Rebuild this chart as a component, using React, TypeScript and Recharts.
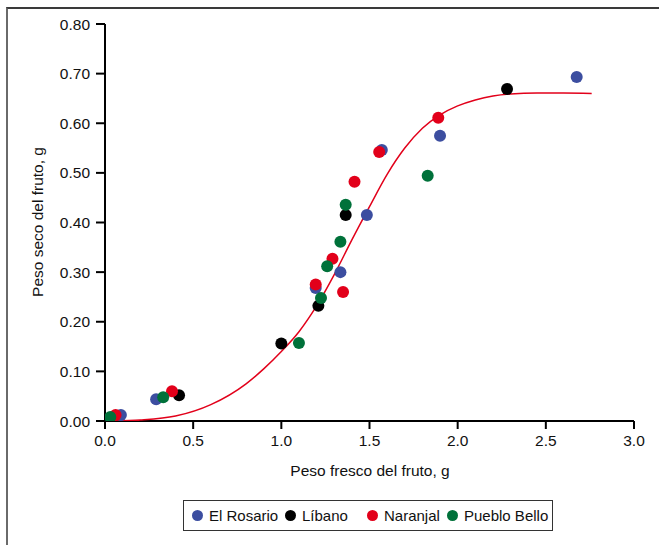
import { Label, Scatter, ScatterChart, XAxis, YAxis } from "recharts";

interface Pt {
  x: number;
  y: number;
}

const xTicks = [0, 0.5, 1, 1.5, 2, 2.5, 3];
const yTicks = [0, 0.1, 0.2, 0.3, 0.4, 0.5, 0.6, 0.7, 0.8];

const elRosario: Pt[] = [
  { x: 0.09, y: 0.012 },
  { x: 0.29, y: 0.044 },
  { x: 1.195, y: 0.268 },
  { x: 1.335, y: 0.3 },
  { x: 1.485, y: 0.415 },
  { x: 1.57, y: 0.546 },
  { x: 1.9, y: 0.575 },
  { x: 2.675, y: 0.693 },
];

const libano: Pt[] = [
  { x: 0.42, y: 0.052 },
  { x: 1.0, y: 0.156 },
  { x: 1.21, y: 0.232 },
  { x: 1.365, y: 0.415 },
  { x: 2.28, y: 0.669 },
];

const naranjal: Pt[] = [
  { x: 0.06, y: 0.012 },
  { x: 0.38, y: 0.06 },
  { x: 1.195, y: 0.275 },
  { x: 1.29, y: 0.327 },
  { x: 1.35, y: 0.26 },
  { x: 1.415, y: 0.482 },
  { x: 1.555, y: 0.542 },
  { x: 1.89, y: 0.611 },
];

const puebloBello: Pt[] = [
  { x: 0.03, y: 0.008 },
  { x: 0.33, y: 0.048 },
  { x: 1.1, y: 0.157 },
  { x: 1.225, y: 0.248 },
  { x: 1.26, y: 0.312 },
  { x: 1.335, y: 0.361 },
  { x: 1.365, y: 0.436 },
  { x: 1.83, y: 0.494 },
];

// fitted curve
const fitCurve: Pt[] = [
  { x: 0.05, y: 0.0 },
  { x: 0.2, y: 0.002 },
  { x: 0.4, y: 0.01 },
  { x: 0.6, y: 0.033 },
  { x: 0.8, y: 0.075 },
  { x: 0.9, y: 0.105 },
  { x: 1.0, y: 0.14 },
  { x: 1.1, y: 0.18 },
  { x: 1.2, y: 0.232 },
  { x: 1.3, y: 0.295 },
  { x: 1.4, y: 0.365 },
  { x: 1.5, y: 0.432 },
  { x: 1.6, y: 0.497 },
  { x: 1.7, y: 0.55 },
  { x: 1.8, y: 0.59 },
  { x: 1.9, y: 0.617 },
  { x: 2.0, y: 0.635 },
  { x: 2.1, y: 0.647 },
  { x: 2.2, y: 0.655 },
  { x: 2.3, y: 0.659 },
  { x: 2.45, y: 0.661 },
  { x: 2.6, y: 0.661 },
  { x: 2.76, y: 0.66 },
];

const series = [
  { name: "El Rosario", data: elRosario, color: "#3C4EA0" },
  { name: "Líbano", data: libano, color: "#000000" },
  { name: "Naranjal", data: naranjal, color: "#E2001A" },
  { name: "Pueblo Bello", data: puebloBello, color: "#00713A" },
];

// legend slot widths, dot to next dot
const legendSlots = [93, 82, 80, 100];

const FONT = "'Liberation Sans', Arial, sans-serif";

function dot(color: string) {
  return (props: { cx?: number; cy?: number }) => (
    <circle cx={props.cx} cy={props.cy} r={6} fill={color} />
  );
}

export default function App() {
  return (
    <div
      style={{
        position: "absolute",
        left: 0,
        top: 0,
        width: 659,
        height: 545,
        background: "#fff",
        overflow: "hidden",
        fontFamily: FONT,
      }}
    >
      {/* outer frame, only left and top edges show */}
      <div
        style={{
          position: "absolute",
          left: 6,
          top: 7,
          width: 700,
          height: 600,
          borderLeft: "2px solid #6a6a6a",
          borderTop: "2px solid #3a3a3a",
        }}
      />
      <div style={{ position: "absolute", left: 0, top: 0 }}>
        <ScatterChart
          width={659}
          height={545}
          margin={{ top: 24, right: 25, bottom: 84, left: 45 }}
        >
          <XAxis
            type="number"
            dataKey="x"
            domain={[0, 3]}
            ticks={xTicks}
            tickFormatter={(v: number) => v.toFixed(1)}
            height={40}
            axisLine={{ stroke: "#000", strokeWidth: 2 }}
            tickLine={{ stroke: "#000", strokeWidth: 2 }}
            tickSize={8}
            tickMargin={6}
            tick={{ fill: "#111", fontSize: 15.5, fontFamily: FONT }}
            allowDataOverflow
          >
            <Label
              content={() => (
                <text
                  x={370}
                  y={476}
                  textAnchor="middle"
                  fill="#111"
                  fontSize={15.5}
                  fontFamily={FONT}
                >
                  Peso fresco del fruto, g
                </text>
              )}
            />
          </XAxis>
          <YAxis
            type="number"
            dataKey="y"
            domain={[0, 0.8]}
            ticks={yTicks}
            tickFormatter={(v: number) => v.toFixed(2)}
            width={60}
            axisLine={{ stroke: "#000", strokeWidth: 2 }}
            tickLine={{ stroke: "#000", strokeWidth: 2 }}
            tickSize={9}
            tickMargin={6}
            tick={{ fill: "#111", fontSize: 15.5, fontFamily: FONT }}
            allowDataOverflow
          >
            <Label
              content={() => (
                <text
                  x={43}
                  y={222}
                  transform="rotate(-90 43 222)"
                  textAnchor="middle"
                  fill="#111"
                  fontSize={15.5}
                  fontFamily={FONT}
                >
                  Peso seco del fruto, g
                </text>
              )}
            />
          </YAxis>
          <Scatter
            name="Ajuste"
            data={fitCurve}
            line={{ stroke: "#E2001A", strokeWidth: 1.5 }}
            lineJointType="monotoneX"
            shape={() => <g />}
            isAnimationActive={false}
          />
          {series.map((s) => (
            <Scatter
              key={s.name}
              name={s.name}
              data={s.data}
              shape={dot(s.color)}
              isAnimationActive={false}
            />
          ))}
        </ScatterChart>
      </div>

      {/* Legend */}
      <div
        style={{
          position: "absolute",
          left: 183,
          top: 500,
          width: 370,
          height: 31,
          border: "1px solid #333",
          display: "flex",
          alignItems: "center",
          boxSizing: "border-box",
          paddingLeft: 8,
          fontSize: 15,
          color: "#111",
          whiteSpace: "nowrap",
        }}
      >
        {series.map((s, i) => (
          <div
            key={s.name}
            style={{
              display: "flex",
              alignItems: "center",
              width: legendSlots[i],
              flexShrink: 0,
            }}
          >
            <span
              style={{
                display: "inline-block",
                width: 11,
                height: 11,
                borderRadius: "50%",
                background: s.color,
                marginRight: 6,
                flexShrink: 0,
              }}
            />
            <span>{s.name}</span>
          </div>
        ))}
      </div>
    </div>
  );
}
